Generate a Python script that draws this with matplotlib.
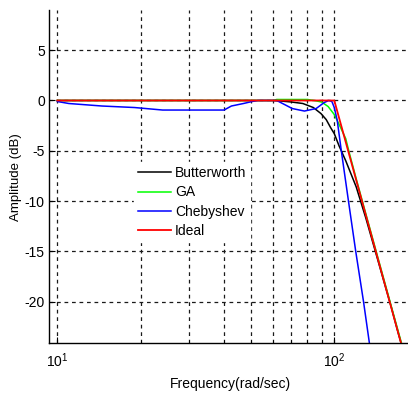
import numpy as np
import matplotlib
matplotlib.use("Agg")
import matplotlib.pyplot as plt

plt.rcParams['font.family'] = ['Liberation Sans', 'DejaVu Sans']
plt.rcParams['axes.unicode_minus'] = False

# values (rad/sec, dB)
w_butter = [10, 30, 60, 64, 70, 77, 84, 89.5, 93.5, 97, 100, 104, 110, 120, 130, 140, 150, 160, 170, 180, 190]
db_butter = [0, 0, 0, -0.05, -0.15, -0.3, -0.7, -1.3, -1.9, -2.7, -3.3, -4.5, -6.0, -8.6, -11.7, -14.8, -17.7, -20.4, -23.1, -25.5, -27.9]

w_ga = [10, 60, 62, 80, 84.5, 90, 95, 100, 105, 110, 113, 120, 140, 160, 180, 190]
db_ga = [0, 0, 0.1, 0.1, 0, -0.15, -0.6, -1.4, -2.6, -3.8, -5.1, -7.8, -14.5, -20.3, -25.4, -27.8]

w_cheb = [10, 11, 14.5, 19, 24, 40, 42.5, 47, 50.5, 53, 62, 64, 70.5, 78, 86, 92, 95.5, 98, 100, 102.5, 106, 112.5, 119.5, 127.5, 134, 140]
db_cheb = [-0.1, -0.3, -0.55, -0.7, -0.95, -0.95, -0.55, -0.3, -0.1, 0, 0, -0.2, -0.8, -1.05, -0.8, -0.2, 0, -0.1, -0.7, -2.0, -5.0, -10, -15, -20, -24.2, -27]

w_ideal = [10, 100, 190]
db_ideal = [0, 0, -27.9]

yticks = [-20, -15, -10, -5, 0, 5]

fig = plt.figure(figsize=(4.08, 3.94), dpi=100)
ax = fig.add_axes([49/408, 50.7/394, 363/408, 333.3/394])

ax.semilogx(w_butter, db_butter, color='k', lw=1.1, label='Butterworth')
ax.semilogx(w_ga, db_ga, color='#00ff00', lw=1.1, label='GA')
ax.semilogx(w_cheb, db_cheb, color='#0000ff', lw=1.1, label='Chebyshev')
ax.semilogx(w_ideal, db_ideal, color='#ff0000', lw=1.3, label='Ideal')

ax.set_xlim(9.33, 190.8)
ax.set_ylim(-24.15, 9.0)
ax.set_yticks(yticks)
ax.set_yticklabels([str(t) for t in yticks])

ax.grid(True, which='both', axis='x', color='0.1', ls=(0, (3, 3)), lw=0.9)
ax.grid(True, which='major', axis='y', color='0.1', ls=(0, (3, 3)), lw=0.9)

for s in ['top', 'right']:
    ax.spines[s].set_visible(False)
ax.spines['left'].set_linewidth(1.0)
ax.spines['bottom'].set_linewidth(1.0)
ax.tick_params(which='major', direction='in', length=4, labelsize=10, pad=3)
ax.tick_params(axis='x', which='major', pad=6)
ax.tick_params(which='minor', direction='in', length=2)

ax.set_xlabel('Frequency(rad/sec)', fontsize=10, labelpad=5)
ax.set_ylabel('Amplitude (dB)', fontsize=9.5, labelpad=2)

leg = ax.legend(loc='upper left', bbox_to_anchor=(0.234, 0.544), fontsize=10,
                frameon=True, fancybox=False, framealpha=1, facecolor='white',
                edgecolor='white', handlelength=2.4, handletextpad=0.25,
                labelspacing=0.38, borderpad=0.3, borderaxespad=0)

fig.savefig('out.png', dpi=100)
